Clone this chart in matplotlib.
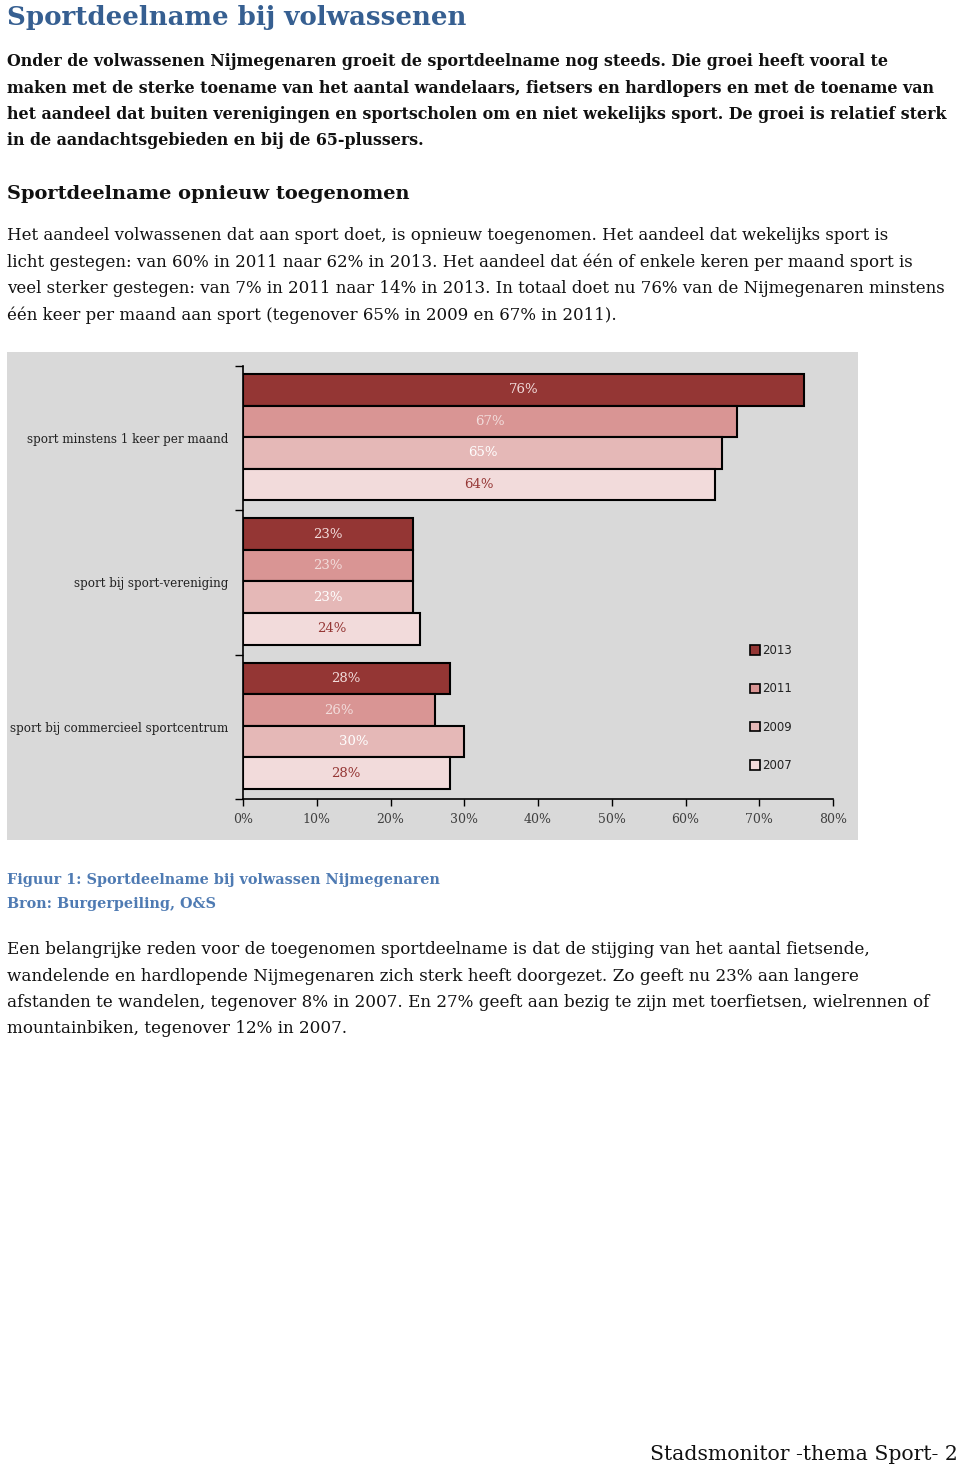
import numpy as np
import matplotlib.pyplot as plt
from matplotlib.patches import Patch, Rectangle

# data
categorieen = ['sport minstens 1 keer per maand', 'sport bij sport-vereniging',
               'sport bij commercieel sportcentrum']
jaren = ['2013', '2011', '2009', '2007']
w2013 = [76, 23, 28]
w2011 = [67, 23, 26]
w2009 = [65, 23, 30]
w2007 = [64, 24, 28]
xticks = [0, 10, 20, 30, 40, 50, 60, 70, 80]

kleuren = ['#943634', '#d99594', '#e5b8b7', '#f2dbdb']
labelkleuren = ['#f2dcdb', '#f2dcdb', '#ffffff', '#953735']

SERIF = 'DejaVu Serif'
W, H = 960, 1468
fig = plt.figure(figsize=(W / 100, H / 100), dpi=100)


def fx(x):
    return x / W


def fy(y):
    return 1 - y / H


def fit(texts, width):
    r = fig.canvas.get_renderer()
    wmax = max(t.get_window_extent(r).width for t in texts)
    for t in texts:
        t.set_fontsize(t.get_fontsize() * width / wmax)


def blok(regels, y0, dy, width, **kw):
    ts = [fig.text(fx(7), fy(y0 + 2 + i * dy), r, ha='left', va='center',
                   family=SERIF, fontsize=10, **kw) for i, r in enumerate(regels)]
    fit(ts, width)
    return ts


# page text
blok(['Sportdeelname bij volwassenen'], 15, 0, 459, color='#365f91', weight='bold')

blok(['Onder de volwassenen Nijmegenaren groeit de sportdeelname nog steeds. Die groei heeft vooral te',
      'maken met de sterke toename van het aantal wandelaars, fietsers en hardlopers en met de toename van',
      'het aandeel dat buiten verenigingen en sportscholen om en niet wekelijks sport. De groei is relatief sterk',
      'in de aandachtsgebieden en bij de 65-plussers.'],
     60, 26.3, 942, color='#111111', weight='bold')

blok(['Sportdeelname opnieuw toegenomen'], 192, 0, 404, color='#111111', weight='bold')

blok(['Het aandeel volwassenen dat aan sport doet, is opnieuw toegenomen. Het aandeel dat wekelijks sport is',
      'licht gestegen: van 60% in 2011 naar 62% in 2013. Het aandeel dat één of enkele keren per maand sport is',
      'veel sterker gestegen: van 7% in 2011 naar 14% in 2013. In totaal doet nu 76% van de Nijmegenaren minstens',
      'één keer per maand aan sport (tegenover 65% in 2009 en 67% in 2011).'],
     234, 26.4, 945, color='#111111')

blok(['Figuur 1: Sportdeelname bij volwassen Nijmegenaren', 'Bron: Burgerpeiling, O&S'],
     878, 24, 436, color='#4f7bb3', weight='bold')

blok(['Een belangrijke reden voor de toegenomen sportdeelname is dat de stijging van het aantal fietsende,',
      'wandelende en hardlopende Nijmegenaren zich sterk heeft doorgezet. Zo geeft nu 23% aan langere',
      'afstanden te wandelen, tegenover 8% in 2007. En 27% geeft aan bezig te zijn met toerfietsen, wielrennen of',
      'mountainbiken, tegenover 12% in 2007.'],
     948, 26.3, 925, color='#111111')

voet = fig.text(fx(958), fy(1455), 'Stadsmonitor -thema Sport- 2', ha='right', va='center',
                family=SERIF, fontsize=10, color='#111111')
fit([voet], 308)

# chart background
fig.patches.append(Rectangle((fx(7), fy(840)), fx(858) - fx(7), fy(352) - fy(840),
                             transform=fig.transFigure, facecolor='#d9d9d9',
                             edgecolor='none', zorder=-5))

ax = fig.add_axes([fx(243), fy(799), fx(833) - fx(243), fy(366) - fy(799)])
ax.patch.set_visible(False)

h = 126 / 4 / 144
off = 8 / 144
reeksen = [w2013, w2011, w2009, w2007]
for j, vals in enumerate(reeksen):
    y = np.arange(len(categorieen)) + off + h * (j + 0.5)
    bars = ax.barh(y, vals, height=h, color=kleuren[j], edgecolor='black', linewidth=1.5)
    for b, v in zip(bars, vals):
        ax.text(v / 2, b.get_y() + h / 2, f'{v}%', ha='center', va='center',
                color=labelkleuren[j], fontsize=9.5, family=SERIF)

ax.set_xlim(0, 80)
ax.set_ylim(3, 0)
ax.set_xticks(xticks)
ax.set_xticklabels([f'{t}%' for t in xticks], family=SERIF, fontsize=9, color='#404040')
ax.tick_params(axis='x', length=5, width=1, pad=5, direction='out')
ax.set_yticks([0, 1, 2, 3])
ax.set_yticklabels([])
ax.set_yticks([0.5, 1.5, 2.5], minor=True)
ax.set_yticklabels(categorieen, minor=True, family=SERIF, fontsize=8.6, color='#222222')
ax.tick_params(axis='y', which='major', length=6, width=1, direction='out')
ax.tick_params(axis='y', which='minor', length=0, pad=10.5)
for s in ['top', 'right']:
    ax.spines[s].set_visible(False)
for s in ['left', 'bottom']:
    ax.spines[s].set_linewidth(1.2)

handles = [Patch(facecolor=k, edgecolor='black', linewidth=1.2) for k in kleuren]
fig.legend(handles, jaren, loc='upper left', bbox_to_anchor=(fx(750), fy(644)),
           frameon=False, handlelength=0.85, handleheight=0.85, handletextpad=0.15,
           labelspacing=2.15, fontsize=8.5, borderpad=0, borderaxespad=0,
           labelcolor='#222222')

fig.savefig('out.png', dpi=100)
